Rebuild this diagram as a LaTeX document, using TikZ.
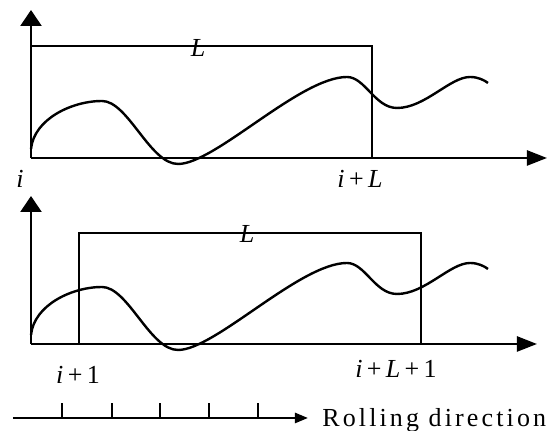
\documentclass[tikz,border=0pt]{standalone}
\usepackage{fontspec}
\setmainfont{Liberation Serif}
\usetikzlibrary{arrows.meta}
\definecolor{RDInk}{HTML}{000000}
\newcommand\rdcurve{(31,282) .. controls (34,312) and (72,330) .. (102,330)
  .. controls (128,330) and (150,267) .. (178,267)
  .. controls (215,267) and (300,354) .. (347,354)
  .. controls (365,354) and (375,323) .. (397,323)
  .. controls (425,323) and (450,354) .. (470,354)
  .. controls (478,354) and (484,351) .. (488,348)}
\tikzset{
  axisline/.style={RDInk,line width=1.2pt},
  xaxis/.style={axisline,-{Triangle[length=10pt,width=7.5pt]}},
  yaxis/.style={axisline,-{Triangle[length=8pt,width=10.5pt]}},
  winbox/.style={RDInk,line width=1.2pt},
  lbl/.style={inner sep=0pt,font=\fontsize{13}{15}\selectfont},
}
\begin{document}
\begin{tikzpicture}[x=0.5pt,y=0.5pt]
\path[use as bounding box] (0,0) rectangle (554,431);
\fill[white] (0,0) rectangle (554,431);
% upper panel
\coordinate (o1) at (31,273);
\coordinate (y1) at (31,421);
\coordinate (x1) at (547,273);
\draw[yaxis] (o1) -- (y1);
\draw[xaxis] (o1) -- (x1);
\draw[winbox] (31,385) -- (372,385) -- (372,273);
\draw[axisline] \rdcurve;
\node[lbl,anchor=base] (li1) at (20,243) {\textit{i}};
\node[lbl,anchor=base] (liL) at (360,243) {\textit{i}\,+\,\textit{L}};
\node[lbl,anchor=base] (lL1) at (198,374) {\textit{L}};
% lower panel
\coordinate (o2) at (31,87);
\coordinate (y2) at (31,235);
\coordinate (x2) at (537,87);
\draw[yaxis] (o2) -- (y2);
\draw[xaxis] (o2) -- (x2);
\draw[winbox] (79,87) -- (79,198) -- (421,198) -- (421,87);
\draw[axisline,yshift=-93pt] \rdcurve;
\node[lbl,anchor=base] (li2) at (78,47) {\textit{i}\,+\,1};
\node[lbl,anchor=base] (liL2) at (396,53) {\textit{i}\,+\,\textit{L}\,+\,1};
\node[lbl,anchor=base] (lL2) at (247,188) {\textit{L}};
% rolling direction
\coordinate (r0) at (13,13);
\node[lbl,anchor=base west] (roll) at (322,4) {\addfontfeature{LetterSpace=12}Rolling direction};
\draw[axisline,-{Triangle[length=6.5pt,width=5pt]}] (r0) -- (308,13);
\foreach \tx in {62,112,160,209,258}
  \draw[axisline] (\tx,13) -- (\tx,28);
\end{tikzpicture}
\end{document}
